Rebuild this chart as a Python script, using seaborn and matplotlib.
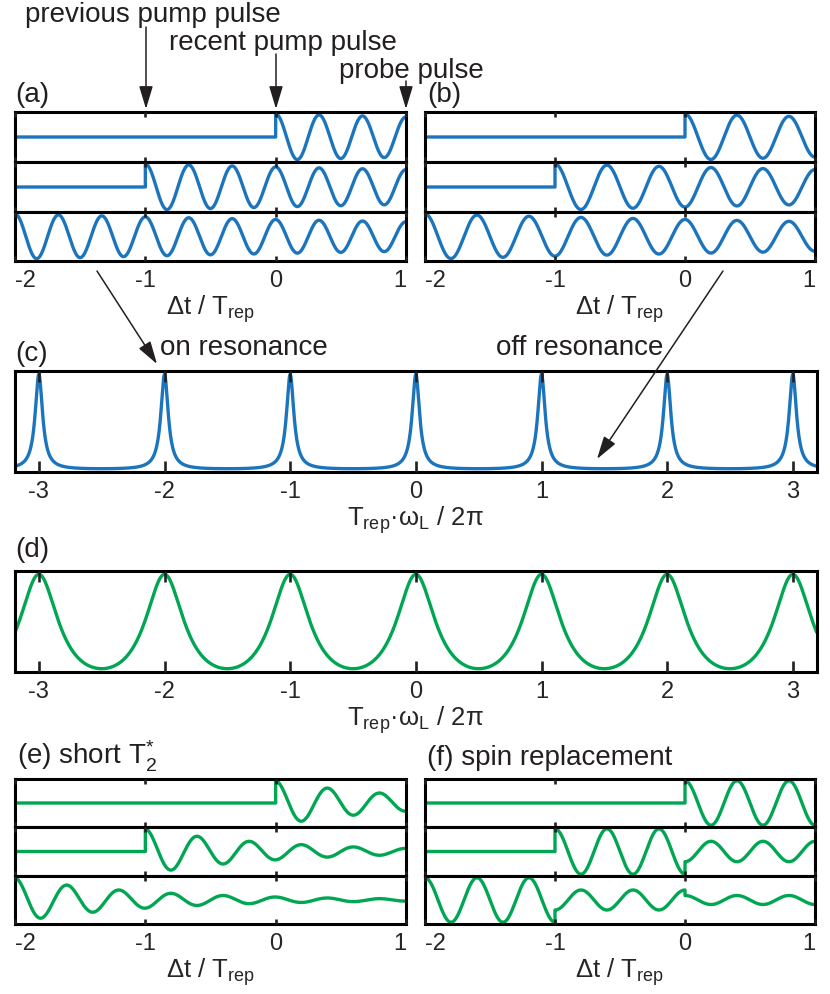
import numpy as np
import pandas as pd
import matplotlib
matplotlib.use("Agg")
import matplotlib.pyplot as plt
import seaborn as sns

# values
pump_starts = [0, -1, -2]        # pump pulse that starts each trace, top row to bottom row
time_ticks = [-2, -1, 0, 1]
freq_ticks = [-3, -2, -1, 0, 1, 2, 3]
freq_range = [-3.19, 3.19]
turns_on = 3.0           # Larmor turns per T_rep in (a)
turns_off = 2.5          # Larmor turns per T_rep in (b), (e), (f)
decay_long = 7.0         # dephasing time in T_rep, (a) and (b)
decay_short = 1.0        # dephasing time in T_rep, (e)
kept_after_pulse = 0.45  # (f): share of amplitude left after each later pump pulse
rsa_ratio_c = 0.8        # amplitude left after one T_rep, (c)
rsa_ratio_d = 0.3        # amplitude left after one T_rep, (d)

blue = "#1c75bc"
green = "#00a651"
ink = "#231f20"

sns.set_style("white")
plt.rcParams["font.family"] = ["Liberation Sans", "DejaVu Sans"]
plt.rcParams["axes.unicode_minus"] = False
plt.rcParams["mathtext.default"] = "regular"

W, H = 830, 995
fig = plt.figure(figsize=(W / 100, H / 100), dpi=100)


def px(x, y):
    return x / W, 1 - y / H


def box(x0, y0, x1, y1):
    return [x0 / W, 1 - y1 / H, (x1 - x0) / W, (y1 - y0) / H]


def trace(t0, turns, tau, keep=1.0):
    ts, ys = [], []
    if t0 > -2:
        ts += [-2.0]
        ys += [0.0]
    edges = [p for p in (-2, -1, 0) if p >= t0] + [1]
    amp = 1.0
    for a, b in zip(edges[:-1], edges[1:]):
        t = np.linspace(a, b, 400)
        y = amp * np.exp(-(t - t0) / tau) * np.cos(2 * np.pi * turns * (t - t0))
        ts += list(t)
        ys += list(y)
        amp *= keep
    if t0 > -2:
        ts = [ts[0], t0] + ts[1:]
        ys = [ys[0], 0.0] + ys[1:]
    return pd.DataFrame({"t": ts, "s": ys})


def rsa(x, r):
    c = np.cos(2 * np.pi * x)
    s = (1 - r * c) / (1 - 2 * r * c + r ** 2)
    lo, hi = 1 / (1 + r), 1 / (1 - r)
    return (s - lo) / (hi - lo)


def style(ax, ticks, length, labels):
    ax.set_axisbelow(False)
    for sp in ax.spines.values():
        sp.set_linewidth(2.2)
        sp.set_color("black")
    ax.set_xticks(ticks)
    ax.set_xticklabels([str(v) for v in ticks] if labels else [])
    ax.set_yticks([])
    ax.tick_params(axis="x", direction="in", top=True, bottom=True,
                   length=length, width=1.9, color=ink, labelsize=17,
                   labelbottom=labels, pad=6)
    ax.set_ylabel("")
    ax.set_xlabel("")


def time_panel(x0, x1, rows, turns, tau, keep, color):
    for i, t0 in enumerate(pump_starts):
        ax = fig.add_axes(box(x0, rows[i], x1, rows[i + 1]))
        df = trace(t0, turns, tau, keep)
        sns.lineplot(data=df, x="t", y="s", ax=ax, color=color, lw=2.4,
                     estimator=None, sort=False, legend=False)
        ax.set_xlim(-2, 1)
        ax.set_ylim(-1.08, 1.08)
        last = i == len(pump_starts) - 1
        style(ax, time_ticks, 3.6, last)
        if last:
            labs = ax.get_xticklabels()
            labs[0].set_ha("left")
            labs[-1].set_ha("right")
            ax.set_xlabel("Δt / T$_{rep}$", fontsize=18.5, labelpad=1)


def freq_panel(y0, y1, r, color):
    ax = fig.add_axes(box(15, y0, 816.7, y1))
    x = np.linspace(freq_range[0], freq_range[1], 4000)
    df = pd.DataFrame({"f": x, "s": rsa(x, r)})
    sns.lineplot(data=df, x="f", y="s", ax=ax, color=color, lw=2.4,
                 estimator=None, sort=False, legend=False)
    ax.set_xlim(*freq_range)
    ax.set_ylim(-0.035, 1.035)
    style(ax, freq_ticks, 8, True)
    ax.set_xlabel("T$_{rep}$·ω$_{L}$ / 2π", fontsize=18.5, labelpad=1)


rows_top = [113, 163, 213, 262]
rows_bot = [780, 828, 877, 925]
time_panel(15, 406, rows_top, turns_on, decay_long, 1.0, blue)
time_panel(425, 815, rows_top, turns_off, decay_long, 1.0, blue)
freq_panel(372, 473, rsa_ratio_c, blue)
freq_panel(572, 673, rsa_ratio_d, green)
time_panel(15, 406, rows_bot, turns_off, decay_short, 1.0, green)
time_panel(425, 815, rows_bot, turns_off, 1e9, kept_after_pulse, green)

# labels and annotations
txt = dict(fontsize=20, color=ink, va="baseline", ha="left")
fig.text(*px(25, 22), "previous pump pulse", **txt)
fig.text(*px(169, 50), "recent pump pulse", **txt)
fig.text(*px(339, 78), "probe pulse", **txt)
fig.text(*px(15, 102), "(a)", **txt)
fig.text(*px(427, 102), "(b)", **txt)
fig.text(*px(15, 361), "(c)", **txt)
fig.text(*px(160, 355), "on resonance", **txt)
fig.text(*px(496, 355), "off resonance", **txt)
fig.text(*px(15, 557), "(d)", **txt)
fig.text(*px(17, 765), "(e) short T$_{2}^{*}$", **txt)
fig.text(*px(427, 765), "(f) spin replacement", **txt)

arrows = [((146, 28), (146, 110)), ((276, 55), (276, 110)), ((406, 82), (406, 110)),
          ((97, 272), (157, 365)), ((723, 272), (597, 460))]
for tail, head in arrows:
    fig.add_artist(matplotlib.patches.FancyArrowPatch(
        px(*tail), px(*head), transform=fig.transFigure,
        arrowstyle="-|>,head_length=1.0,head_width=0.3", mutation_scale=14,
        lw=1.1, color=ink, shrinkA=0, shrinkB=0))

fig.savefig("out.png", dpi=100)
